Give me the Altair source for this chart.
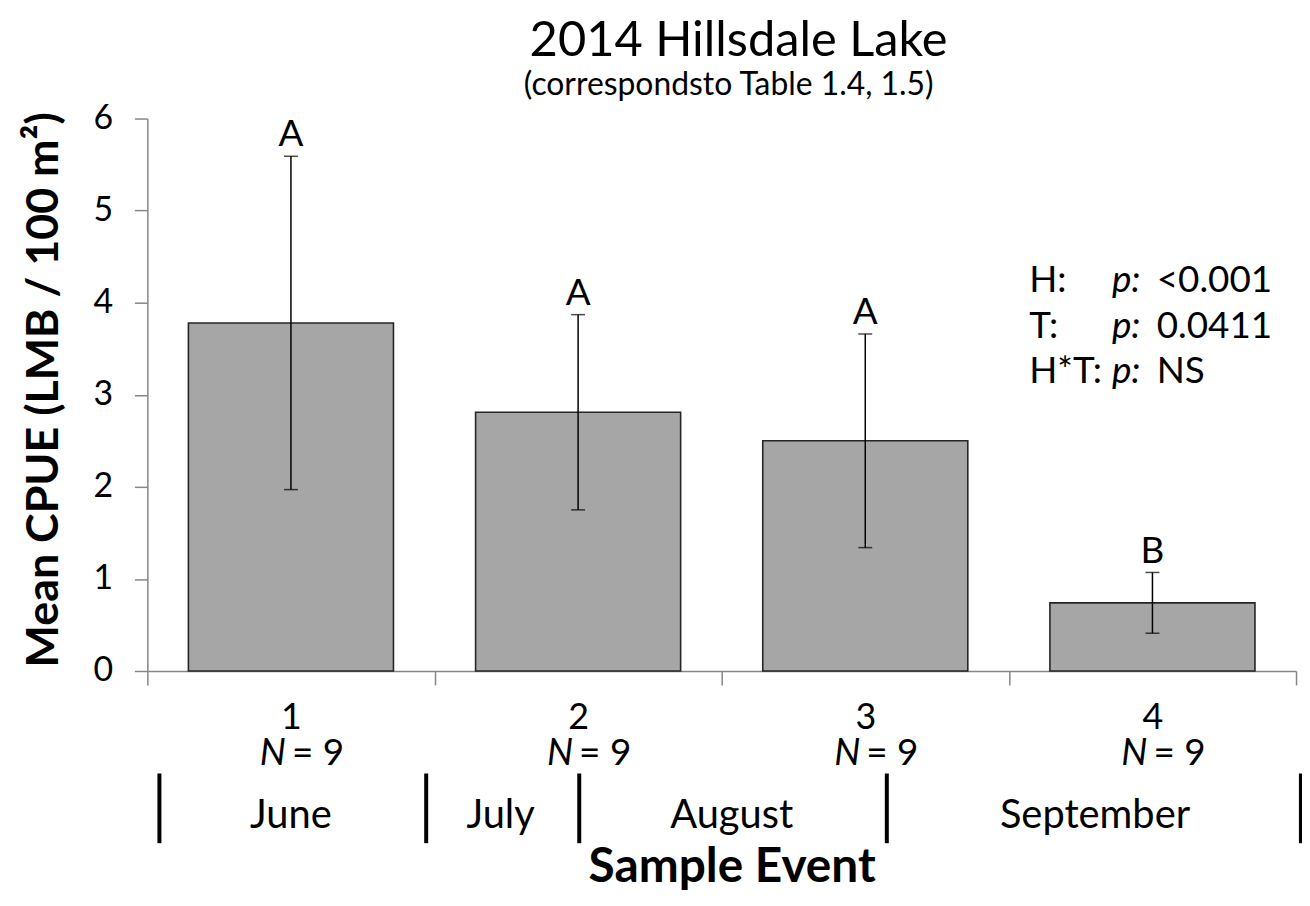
import altair as alt
import pandas as pd

# ---- data ----
events = ["1", "2", "3", "4"]
mean_cpue = [3.78, 2.81, 2.50, 0.74]
std_err = [1.81, 1.06, 1.16, 0.33]
letters = ["A", "A", "A", "B"]
n_counts = [9, 9, 9, 9]

months = ["June", "July", "August", "September"]
month_label_pos = [1.0, 1.73, 2.535, 3.80]          # in sample-event units
month_dividers = [0.542, 1.471, 2.004, 3.075, 4.517]  # in sample-event units

stat_terms = ["H:", "T:", "H*T:"]
stat_pvalues = ["<0.001", "0.0411", "NS"]

title_text = "2014 Hillsdale Lake"
subtitle_text = "(correspondsto Table 1.4, 1.5)"

FONT = "Lato"

df = pd.DataFrame({
    "event": events,
    "mean": mean_cpue,
    "se": std_err,
    "letter": letters,
    "n": n_counts,
})
df["lo"] = df["mean"] - df["se"]
df["hi"] = df["mean"] + df["se"]
df["ntext"] = ["= " + str(v) for v in df["n"]]

W, H = 1154, 555

xband = alt.X(
    "event:N",
    sort=events,
    scale=alt.Scale(paddingInner=0, paddingOuter=0),
    axis=alt.Axis(
        title="Sample Event",
        titleFont=FONT, titleFontSize=48, titleFontWeight="bold",
        titleX=587, titleY=212, titleBaseline="alphabetic", titleAlign="center",
        labelAngle=0, labelFont=FONT, labelFontSize=36, labelPadding=16,
        labelColor="black",
        tickBand="extent", tickSize=14, tickColor="#868686", tickWidth=1.5,
        domainColor="#868686", domainWidth=1.5,
    ),
)
yscale = alt.Scale(domain=[0, 6])

base = alt.Chart(df)

bars = base.mark_bar(color="#a6a6a6", stroke="#262626", strokeWidth=1.6,
                     width=alt.RelativeBandSize(0.714)).encode(
    x=xband,
    y=alt.Y(
        "mean:Q",
        scale=yscale,
        axis=alt.Axis(
            title="Mean CPUE (LMB / 100 m²)",
            titleFont=FONT, titleFontSize=45, titleFontWeight="bold",
            titleX=-90, titleY=272, titleAngle=-90,
            titleBaseline="alphabetic", titleAlign="center",
            values=[0, 1, 2, 3, 4, 5, 6], format="d", grid=False,
            labelFont=FONT, labelFontSize=34, labelPadding=22, labelColor="black",
            tickSize=13, tickColor="#868686", tickWidth=1.5,
            domainColor="#868686", domainWidth=1.5,
        ),
    ),
)

err = base.mark_rule(color="black", strokeWidth=1.5).encode(
    x=alt.X("event:N", sort=events), y=alt.Y("lo:Q", scale=yscale), y2="hi:Q"
)
cap_hi = base.mark_tick(color="black", thickness=1.5, size=14).encode(
    x=alt.X("event:N", sort=events), y=alt.Y("hi:Q", scale=yscale)
)
cap_lo = base.mark_tick(color="black", thickness=1.5, size=14).encode(
    x=alt.X("event:N", sort=events), y=alt.Y("lo:Q", scale=yscale)
)
letter_txt = base.mark_text(font=FONT, fontSize=37, dy=-21, baseline="middle",
                            color="black").encode(
    x=alt.X("event:N", sort=events), y=alt.Y("hi:Q", scale=yscale), text="letter:N"
)
n_italic = base.mark_text(font=FONT, fontSize=37, fontStyle="italic", align="right",
                          dx=-5, baseline="middle", color="black").encode(
    x=alt.X("event:N", sort=events), y=alt.value(638), text=alt.value("N")
)
n_rest = base.mark_text(font=FONT, fontSize=37, align="left", dx=1,
                        baseline="middle", color="black").encode(
    x=alt.X("event:N", sort=events), y=alt.value(638), text="ntext:N"
)

main = alt.layer(bars, err, cap_hi, cap_lo, letter_txt, n_italic, n_rest)

# month timeline beneath the axis
mscale = alt.Scale(domain=[0.5, 4.5])
div_df = pd.DataFrame({"pos": month_dividers})
mon_df = pd.DataFrame({"pos": month_label_pos, "month": months})
dividers = alt.Chart(div_df).mark_rule(color="black", strokeWidth=4).encode(
    x=alt.X("pos:Q", scale=mscale, axis=None),
    y=alt.value(658), y2=alt.value(728),
)
month_txt = alt.Chart(mon_df).mark_text(font=FONT, fontSize=40, baseline="middle",
                                        color="black").encode(
    x=alt.X("pos:Q", scale=mscale, axis=None),
    y=alt.value(701), text="month:N",
)
timeline = alt.layer(dividers, month_txt)

# statistics annotation
ann_layers = []
for i, (term, pv) in enumerate(zip(stat_terms, stat_pvalues)):
    yy = 163 + i * 46
    d = pd.DataFrame({"term": [term], "pv": [pv]})
    c = alt.Chart(d)
    ann_layers.append(c.mark_text(font=FONT, fontSize=37, align="left", baseline="middle",
                                  color="black").encode(
        x=alt.value(886), y=alt.value(yy), text="term:N"))
    ann_layers.append(c.mark_text(font=FONT, fontSize=37, align="left", baseline="middle",
                                  fontStyle="italic", color="black").encode(
        x=alt.value(969), y=alt.value(yy), text=alt.value("p:")))
    ann_layers.append(c.mark_text(font=FONT, fontSize=37, align="left", baseline="middle",
                                  color="black").encode(
        x=alt.value(1014), y=alt.value(yy), text="pv:N"))

# titles
tdf = pd.DataFrame({"t": [title_text], "s": [subtitle_text]})
title_mark = alt.Chart(tdf).mark_text(font=FONT, fontSize=49, baseline="middle",
                                      color="black").encode(
    x=alt.value(594), y=alt.value(-78), text="t:N")
subtitle_mark = alt.Chart(tdf).mark_text(font=FONT, fontSize=32, baseline="middle",
                                         color="black").encode(
    x=alt.value(584), y=alt.value(-34), text="s:N")

chart = alt.layer(
    main, timeline, *ann_layers, title_mark, subtitle_mark
).resolve_scale(x="independent").properties(
    width=W, height=H,
    autosize=alt.AutoSizeParams(type="none"),
    padding={"left": 140, "top": 109, "right": 6, "bottom": 222},
    view=alt.ViewBackground(stroke=None, strokeWidth=0),
).configure_view(stroke=None, strokeWidth=0).configure_axis(grid=False).configure(
    background="white"
)

chart.save("out.html", embed_options={"renderer": "svg", "actions": False})
